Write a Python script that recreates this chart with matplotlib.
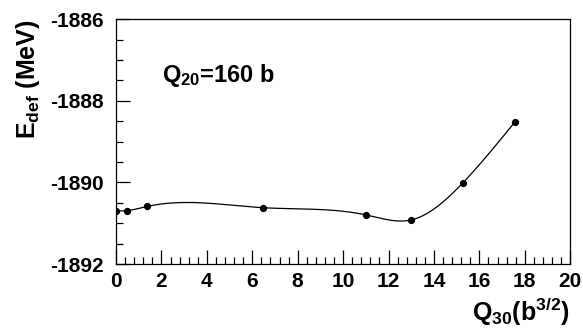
import numpy as np
import matplotlib
matplotlib.use("Agg")
import matplotlib.pyplot as plt
from matplotlib.ticker import MultipleLocator

plt.rcParams['font.family'] = 'Liberation Sans'
plt.rcParams['font.weight'] = 'bold'
plt.rcParams['mathtext.fontset'] = 'custom'
plt.rcParams['mathtext.rm'] = 'Liberation Sans:bold'
plt.rcParams['mathtext.it'] = 'Liberation Sans:bold'
plt.rcParams['mathtext.bf'] = 'Liberation Sans:bold'
plt.rcParams['axes.unicode_minus'] = False

q30 = [0.0, 0.5, 1.37, 6.46, 11.03, 13.0, 15.26, 17.58]
e_def = [-1890.70, -1890.69, -1890.59, -1890.62, -1890.80, -1890.92, -1890.02, -1888.51]


def natural_spline(x, y, xs):
    # natural cubic spline through the points (ROOT "C" style curve)
    x = np.asarray(x, float)
    y = np.asarray(y, float)
    n = len(x)
    h = np.diff(x)
    A = np.zeros((n, n))
    r = np.zeros(n)
    A[0, 0] = A[-1, -1] = 1.0
    for i in range(1, n - 1):
        A[i, i - 1] = h[i - 1]
        A[i, i] = 2 * (h[i - 1] + h[i])
        A[i, i + 1] = h[i]
        r[i] = 6 * ((y[i + 1] - y[i]) / h[i] - (y[i] - y[i - 1]) / h[i - 1])
    m = np.linalg.solve(A, r)
    k = np.clip(np.searchsorted(x, xs) - 1, 0, n - 2)
    t0 = x[k + 1] - xs
    t1 = xs - x[k]
    hk = h[k]
    return (m[k] * t0**3 / (6 * hk) + m[k + 1] * t1**3 / (6 * hk)
            + (y[k] / hk - m[k] * hk / 6) * t0
            + (y[k + 1] / hk - m[k + 1] * hk / 6) * t1)


fig = plt.figure(figsize=(5.83, 3.3), dpi=100)
ax = fig.add_axes([0.199, 0.2, 0.779, 0.742])

xs = np.linspace(q30[0], q30[-1], 400)
ax.plot(xs, natural_spline(q30, e_def, xs), color='black', lw=0.9)
ax.plot(q30, e_def, 'o', color='black', ms=4.2)

ax.set_xlim(0, 20)
ax.set_ylim(-1892, -1886)
ax.xaxis.set_major_locator(MultipleLocator(2))
ax.xaxis.set_minor_locator(MultipleLocator(0.4))
ax.yaxis.set_major_locator(MultipleLocator(2))
ax.yaxis.set_minor_locator(MultipleLocator(0.5))
ax.tick_params(which='both', direction='in', top=False, right=False, width=0.9,
               labelsize=15)
ax.tick_params(which='major', length=10)
ax.tick_params(which='minor', length=5)
ax.tick_params(axis='x', pad=6)
ax.tick_params(axis='y', pad=9)
for s in ax.spines.values():
    s.set_linewidth(0.9)

ax.set_ylabel('E$_{def}$ (MeV)', fontsize=18, fontweight='bold', loc='top')
ax.yaxis.set_label_coords(-0.163, 1.0)
ax.set_xlabel('Q$_{30}$(b$^{3/2}$)', fontsize=18, fontweight='bold', loc='right')
ax.xaxis.set_label_coords(1.0, -0.13)

ax.text(0.101, 0.743, 'Q$_{20}$=160 b', transform=ax.transAxes, fontsize=17,
        fontweight='bold', va='baseline')

fig.savefig('out.png', dpi=100)
